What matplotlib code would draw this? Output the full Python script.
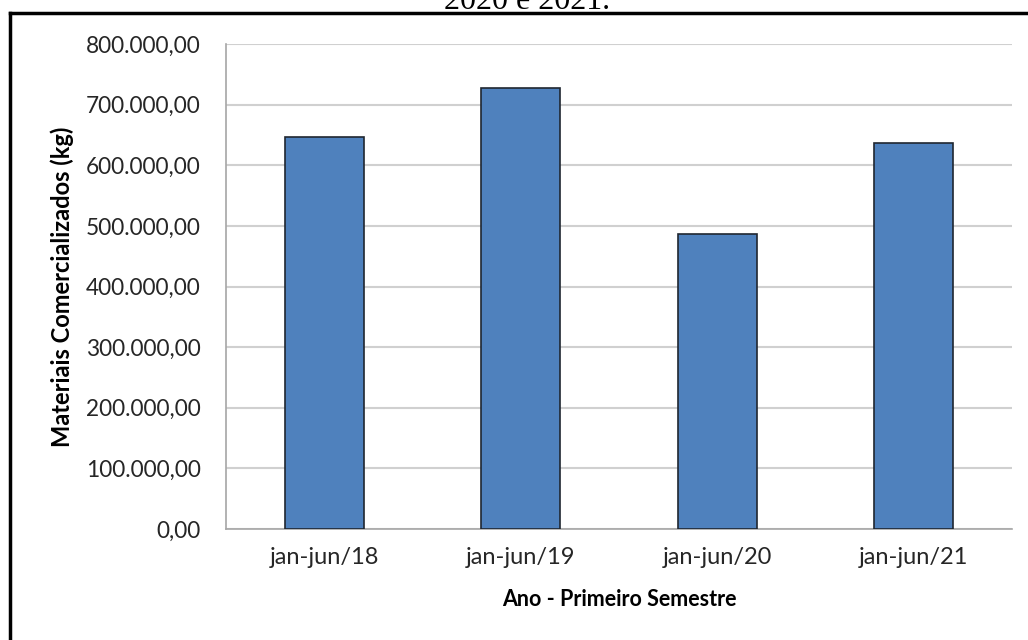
"""
Materiais comercializados no primeiro semestre, 2018 a 2021.
"""

from matplotlib import pyplot as plt
from matplotlib.lines import Line2D
from matplotlib.ticker import FuncFormatter, MultipleLocator
import numpy as np

periodos = ['jan-jun/18', 'jan-jun/19', 'jan-jun/20', 'jan-jun/21']
quantidades = [646000, 728000, 486000, 637000]


def formata_br(v, pos=None):
    """800000 -> 800.000,00"""
    s = f"{v:,.2f}"
    return s.replace(',', '#').replace('.', ',').replace('#', '.')


plt.rcParams['font.family'] = ['Lato', 'DejaVu Sans']

fig = plt.figure(figsize=(10.28, 6.40), dpi=100)
ax = fig.add_axes([0.2198, 0.1734, 0.7646, 0.7578])

x = np.arange(len(periodos))
ax.bar(x, quantidades, width=0.4, color='#4f81bd',
       edgecolor='#1f2630', linewidth=1.2, zorder=3)

ax.set_xlim(-0.5, len(periodos) - 0.5)
ax.set_ylim(0, 800000)
ax.yaxis.set_major_locator(MultipleLocator(100000))
ax.yaxis.set_major_formatter(FuncFormatter(formata_br))
ax.set_xticks(x)
ax.set_xticklabels(periodos)

ax.grid(axis='y', color='#d0d0d0', linewidth=1.5, zorder=0)
ax.tick_params(axis='both', length=0, colors='#262626')
ax.tick_params(axis='y', pad=18, labelsize=16.3)
ax.tick_params(axis='x', pad=13, labelsize=17)
for lado in ['top', 'right']:
    ax.spines[lado].set_visible(False)
for lado in ['left', 'bottom']:
    ax.spines[lado].set_color('#a6a6a6')
    ax.spines[lado].set_linewidth(1.2)

ax.set_xlabel('Ano - Primeiro Semestre', fontsize=15.5, fontweight='bold', labelpad=15)
ax.set_ylabel('Materiais Comercializados (kg)', fontsize=17, fontweight='bold', labelpad=9)

# moldura do grafico (so topo e lado esquerdo aparecem)
fig.add_artist(Line2D([10 / 1028, 1.0], [1 - 13 / 640, 1 - 13 / 640],
                      color='black', linewidth=2.5, transform=fig.transFigure))
fig.add_artist(Line2D([10 / 1028, 10 / 1028], [1 - 13 / 640, 0.0],
                      color='black', linewidth=2.5, transform=fig.transFigure))

# final da legenda do documento, cortado no topo
fig.text(527 / 1028, 1 - 9 / 640, '2020 e 2021.', ha='center', va='baseline',
         fontsize=23, family='Liberation Serif')

plt.savefig('out.png', dpi=100)
